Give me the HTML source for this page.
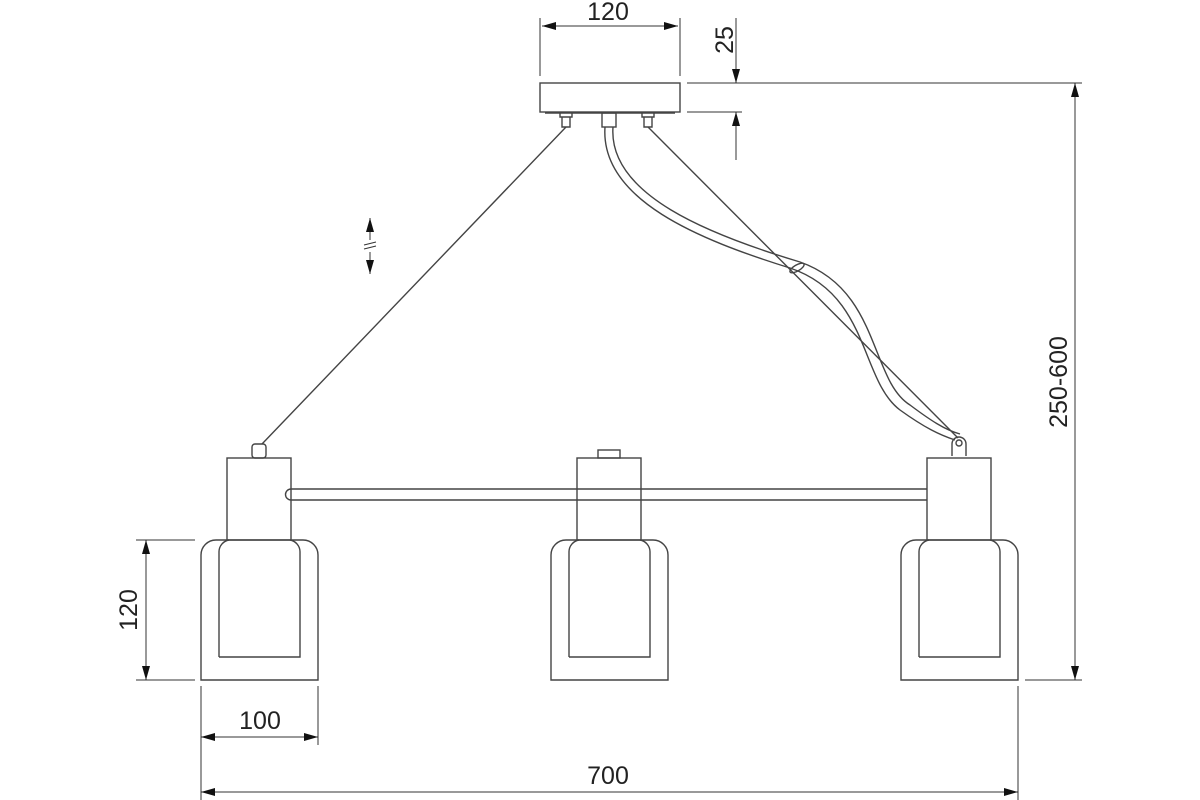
<!DOCTYPE html>
<html><head><style>
html,body{margin:0;padding:0;background:#fff;}
svg{display:block;}
text{font-family:"Liberation Sans",sans-serif;font-size:25px;fill:#222;}
</style></head><body>
<svg width="1200" height="800" viewBox="0 0 1200 800" xmlns="http://www.w3.org/2000/svg">
<defs>
<marker id="a" markerWidth="14" markerHeight="8" refX="14" refY="4" orient="auto" markerUnits="userSpaceOnUse">
<path d="M0,0 L14,4 L0,8 Z" fill="#111"/></marker>
</defs>
<g stroke="#444" stroke-width="1.4" fill="none">
<!-- canopy -->
<rect x="540" y="83" width="140" height="29"/>
<line x1="545" y1="113" x2="675" y2="113"/>
<path d="M560,113 v4 h12 v-4 M562,117 v10 h8 v-10"/>
<path d="M642,113 v4 h12 v-4 M644,117 v10 h8 v-10"/>
<rect x="602" y="113" width="14" height="14"/>
<!-- wires -->
<line x1="566" y1="127" x2="262" y2="444"/>
<line x1="648" y1="127" x2="958" y2="438"/>
<path d="M605,127 C600,200 700,240 790,268 C870,295 860,380 900,410 C925,428 940,435 955,440"/>
<path d="M613,127 C608,195 710,235 800,262 C880,290 870,380 910,405 C930,420 945,430 960,434"/>
<ellipse cx="797" cy="268" rx="3" ry="8" transform="rotate(60 797 268)"/>
<path d="M952,456 v-12 a7,7 0 0 1 14,0 v12"/>
<circle cx="959" cy="443" r="3"/>
<!-- bar -->
<path d="M291,489 H927 M291,500 H927 M291,489 a5.5,5.5 0 0 0 0,11"/>
<!-- left lamp -->
<rect x="252" y="444" width="14" height="14" rx="3"/>
<rect x="227" y="458" width="64" height="82"/>
<path d="M201,680 V555 a15,15 0 0 1 15,-15 H303 a15,15 0 0 1 15,15 V680 Z"/>
<path d="M219,657 V552 a12,12 0 0 1 10,-12 M290,540 a12,12 0 0 1 10,12 V657 H219"/>
<!-- middle lamp -->
<rect x="598" y="450" width="22" height="8"/>
<rect x="577" y="458" width="64" height="82"/>
<path d="M551,680 V555 a15,15 0 0 1 15,-15 H653 a15,15 0 0 1 15,15 V680 Z"/>
<path d="M569,657 V552 a12,12 0 0 1 10,-12 M640,540 a12,12 0 0 1 10,12 V657 H569"/>
<!-- right lamp -->
<rect x="927" y="458" width="64" height="82"/>
<path d="M901,680 V555 a15,15 0 0 1 15,-15 H1003 a15,15 0 0 1 15,15 V680 Z"/>
<path d="M919,657 V552 a12,12 0 0 1 10,-12 M990,540 a12,12 0 0 1 10,12 V657 H919"/>
</g>
<!-- dimensions -->
<g stroke="#333" stroke-width="1" fill="none">
<line x1="540" y1="18" x2="540" y2="76"/>
<line x1="680" y1="18" x2="680" y2="76"/>
<line x1="570" y1="26" x2="542" y2="26" marker-end="url(#a)"/>
<line x1="650" y1="26" x2="678" y2="26" marker-end="url(#a)"/>
<line x1="570" y1="26" x2="650" y2="26"/>
<line x1="687" y1="83" x2="1082" y2="83"/>
<line x1="687" y1="112" x2="742" y2="112"/>
<line x1="736" y1="18" x2="736" y2="83" marker-end="url(#a)"/>
<line x1="736" y1="160" x2="736" y2="112" marker-end="url(#a)"/>
<line x1="136" y1="540" x2="195" y2="540"/>
<line x1="136" y1="680" x2="195" y2="680"/>
<line x1="146" y1="600" x2="146" y2="540" marker-end="url(#a)"/>
<line x1="146" y1="600" x2="146" y2="680" marker-end="url(#a)"/>
<line x1="201" y1="686" x2="201" y2="800"/>
<line x1="318" y1="686" x2="318" y2="745"/>
<line x1="1018" y1="686" x2="1018" y2="800"/>
<line x1="260" y1="737" x2="201" y2="737" marker-end="url(#a)"/>
<line x1="260" y1="737" x2="318" y2="737" marker-end="url(#a)"/>
<line x1="600" y1="792" x2="201" y2="792" marker-end="url(#a)"/>
<line x1="600" y1="792" x2="1018" y2="792" marker-end="url(#a)"/>
<line x1="1025" y1="680" x2="1082" y2="680"/>
<line x1="1075" y1="380" x2="1075" y2="83" marker-end="url(#a)"/>
<line x1="1075" y1="380" x2="1075" y2="680" marker-end="url(#a)"/>
<line x1="370" y1="240" x2="370" y2="218" marker-end="url(#a)"/>
<line x1="370" y1="252" x2="370" y2="274" marker-end="url(#a)"/>
<path d="M364,245 l12,-3 M364,249 l12,-3"/>
</g>
<text x="608" y="20" text-anchor="middle">120</text>
<text transform="translate(733,40) rotate(-90)" text-anchor="middle">25</text>
<text transform="translate(137,610) rotate(-90)" text-anchor="middle">120</text>
<text x="260" y="729" text-anchor="middle">100</text>
<text x="608" y="784" text-anchor="middle">700</text>
<text transform="translate(1067,382) rotate(-90)" text-anchor="middle">250-600</text>
</svg>
</body></html>
